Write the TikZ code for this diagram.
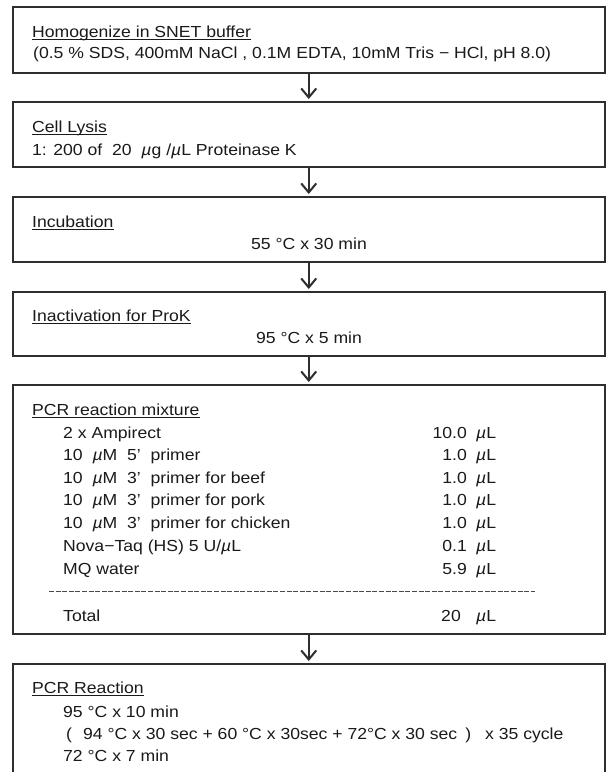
\documentclass[tikz,border=0pt]{standalone}
\usepackage{fontspec}
\setmainfont{Liberation Sans}[FakeStretch=1.1]
\usetikzlibrary{arrows.meta}
\definecolor{boxcol}{HTML}{2E2E2E}
\definecolor{txtcol}{HTML}{1A1A1A}
\newcommand{\muu}{{\itshape µ}}
\begin{document}
\begin{tikzpicture}[x=1pt,y=-1pt,
  box/.style={draw=boxcol, line width=2pt, rectangle, inner sep=0pt, minimum width=592.5pt},
  txt/.style={anchor=base west, inner sep=0pt, font=\fontsize{16}{19}\selectfont, text=txtcol},
  ctxt/.style={anchor=base, inner sep=0pt, font=\fontsize{16}{19}\selectfont, text=txtcol},
  rtxt/.style={anchor=base east, inner sep=0pt, font=\fontsize{16}{19}\selectfont, text=txtcol},
  uline/.style={draw=txtcol, line width=1.3pt},
  flow/.style={draw=boxcol, line width=2pt, -{Straight Barb[length=9pt,width=15pt,line width=2pt]}, shorten >=2pt},
  dashline/.style={draw=txtcol!80, line width=1pt, dash pattern=on 5pt off 1.6pt}]
\useasboundingbox (0,0) rectangle (606,772);
\fill[white] (0,0) rectangle (606,772);
% boxes
\node[box, minimum height=66pt] (b1) at (308.75,40) {};
\node[box, minimum height=65pt] (b2) at (308.75,134.5) {};
\node[box, minimum height=65pt] (b3) at (308.75,229.5) {};
\node[box, minimum height=64pt] (b4) at (308.75,324) {};
\node[box, minimum height=249pt] (b5) at (308.75,509.5) {};
\node[box, minimum height=130pt] (b6) at (308.75,729) {};
% arrows
\draw[flow] (b1.south) -- (b2.north);
\draw[flow] (b2.south) -- (b3.north);
\draw[flow] (b3.south) -- (b4.north);
\draw[flow] (b4.south) -- (b5.north);
\draw[flow] (b5.south) -- (b6.north);
% box 1
\node[txt] (t1a) at (32,37) {Homogenize in SNET buffer};
\node[txt] (t1b) at (33,58) {(0.5 \% SDS, 400mM NaCl , 0.1M EDTA, 10mM Tris − HCl, pH 8.0)};
% box 2
\node[txt] (t2a) at (32,132) {Cell Lysis};
\node[txt] (t2b) at (32,155) {1: 200 of\ \ 20\ \ \muu g /\muu L Proteinase K};
% box 3
\node[txt] (t3a) at (32,227) {Incubation};
\node[ctxt] (t3b) at (309,249) {55 °C x 30 min};
% box 4
\node[txt] (t4a) at (32,321) {Inactivation for ProK};
\node[ctxt] (t4b) at (309,343) {95 °C x 5 min};
% box 5
\node[txt] (t5a) at (32,415) {PCR reaction mixture};
\node[txt] (i1) at (63,438) {2 x Ampirect};
\node[txt] (i2) at (63,460.5) {10\ \ \muu M\ \ 5’\ \ primer};
\node[txt] (i3) at (63,483) {10\ \ \muu M\ \ 3’\ \ primer for beef};
\node[txt] (i4) at (63,505.5) {10\ \ \muu M\ \ 3’\ \ primer for pork};
\node[txt] (i5) at (63,528) {10\ \ \muu M\ \ 3’\ \ primer for chicken};
\node[txt] (i6) at (63,551) {Nova−Taq (HS) 5 U/\muu L};
\node[txt] (i7) at (63,574) {MQ water};
\node[txt] (i8) at (63,621) {Total};
\node[rtxt] (v1) at (467,438) {10.0};
\node[rtxt] (v2) at (467,460.5) {1.0};
\node[rtxt] (v3) at (467,483) {1.0};
\node[rtxt] (v4) at (467,505.5) {1.0};
\node[rtxt] (v5) at (467,528) {1.0};
\node[rtxt] (v6) at (467,551) {0.1};
\node[rtxt] (v7) at (467,574) {5.9};
\node[rtxt] (v8) at (461,621) {20};
\foreach \yy/\nm in {438/u1,460.5/u2,483/u3,505.5/u4,528/u5,551/u6,574/u7,621/u8}
  \node[txt] (\nm) at (476,\yy) {\muu L};
\coordinate (dA) at (49,591);
\coordinate (dB) at (535,591);
\draw[dashline] (dA) -- (dB);
% box 6
\node[txt] (t6a) at (32,693) {PCR Reaction};
\node[txt] (r1) at (63,717) {95 °C x 10 min};
\node[txt] (r2) at (63,739) {\hspace{3pt}(\hspace{11pt}94 °C x 30 sec + 60 °C x 30sec + 72°C x 30 sec\hspace{8pt})\hspace{14pt}x 35 cycle};
\node[txt] (r3) at (63,761) {72 °C x 7 min};
% underlines of the titles
\foreach \n in {t1a,t2a,t3a,t4a,t5a,t6a}
  \draw[uline] ([yshift=-2.2pt]\n.base west) -- ([yshift=-2.2pt]\n.base east);
\end{tikzpicture}
\end{document}
